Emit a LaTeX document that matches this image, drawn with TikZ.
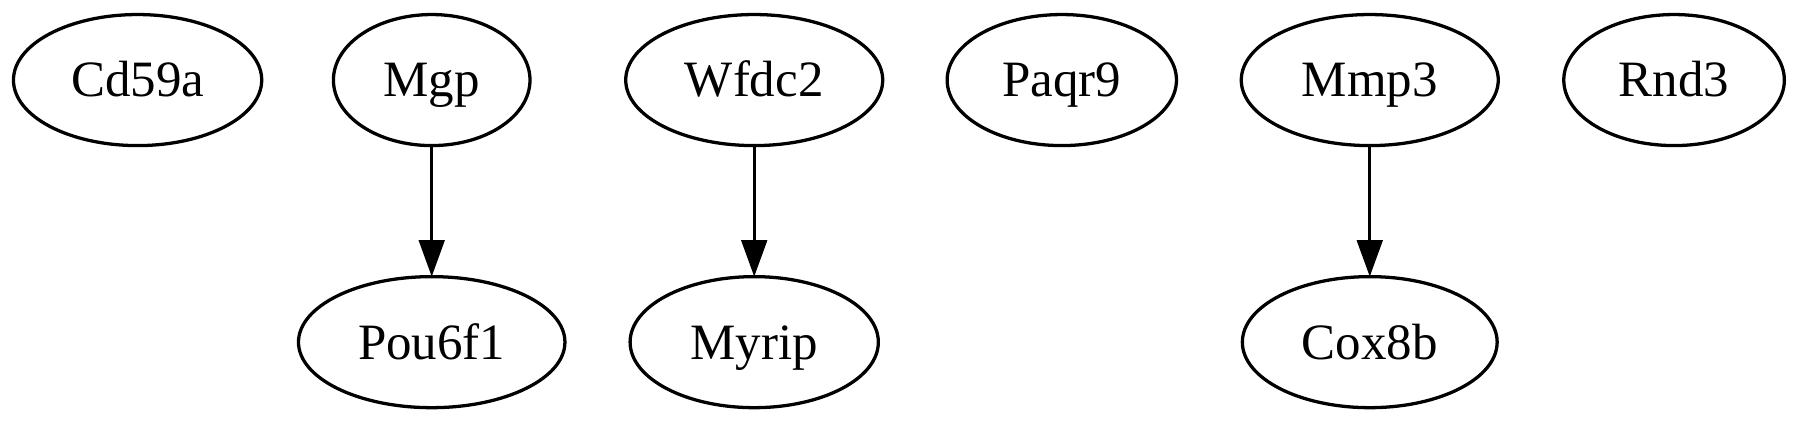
\documentclass[tikz,border=0pt]{standalone}
\usepackage{fontspec}
\setmainfont{Liberation Serif}
\usetikzlibrary{arrows.meta,shapes.geometric}

\begin{document}
\begin{tikzpicture}[x=1pt,y=1pt,>={Triangle[length=10pt,width=7pt]},
  gene/.style={draw,ellipse,line width=.9pt,inner sep=0pt,outer sep=0pt,minimum height=36pt,text height=9.3pt,text depth=0pt,font=\fontsize{14}{16}\selectfont}]
\useasboundingbox (0,0) rectangle (494.5,117);
\node[gene,minimum width=68.2pt] (Cd59a) at (37.8,95){Cd59a};\node[gene,minimum width=54pt] (Mgp) at (118.6,95){Mgp};
\node[gene,minimum width=70.6pt] (Wfdc2) at (207.2,95){Wfdc2};\node[gene,minimum width=63pt] (Paqr9) at (291.7,95){Paqr9};
\node[gene,minimum width=70.6pt] (Mmp3) at (376.3,95){Mmp3};\node[gene,minimum width=60.6pt] (Rnd3) at (459.9,95){Rnd3};
\node[gene,minimum width=73.2pt] (Pou6f1) at (118.6,23){Pou6f1};\node[gene,minimum width=68.2pt] (Myrip) at (207.2,23){Myrip};
\node[gene,minimum width=70pt] (Cox8b) at (376.3,23){Cox8b};
\draw[->,line width=.9pt] (Mgp)--(Pou6f1);\draw[->,line width=.9pt] (Wfdc2)--(Myrip);\draw[->,line width=.9pt] (Mmp3)--(Cox8b);
\end{tikzpicture}
\end{document}
